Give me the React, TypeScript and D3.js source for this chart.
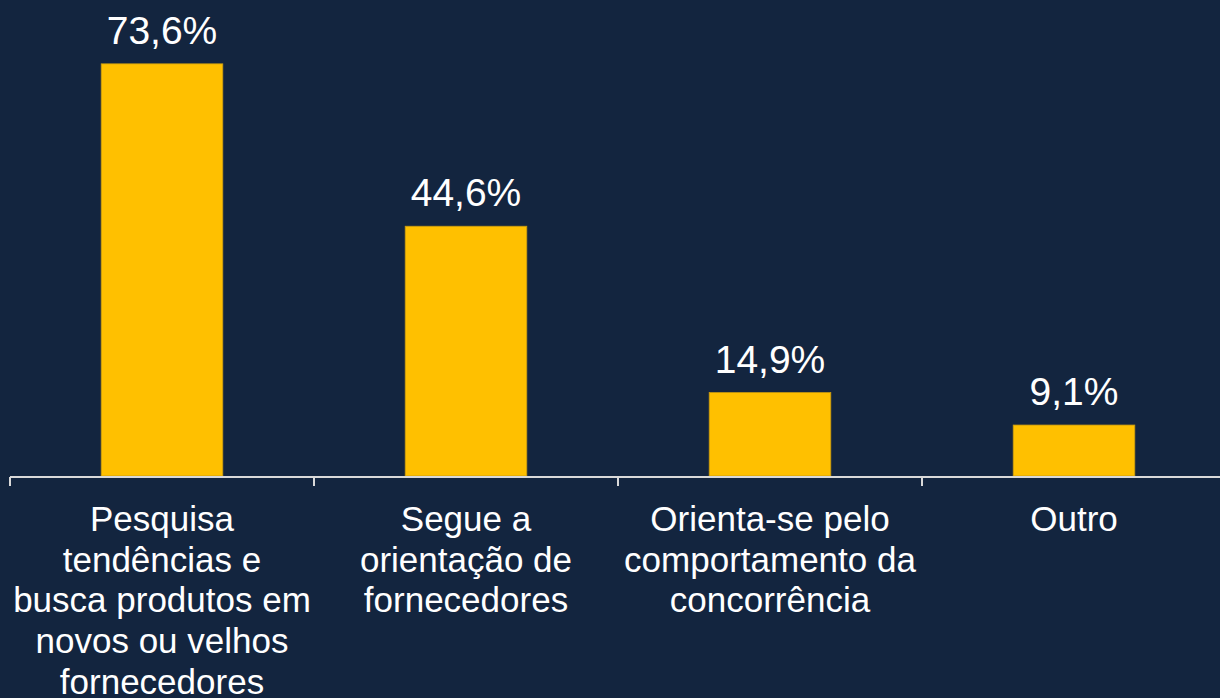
import React from "react";
import * as d3 from "d3";

const categories: string[][] = [
  ["Pesquisa", "tendências e", "busca produtos em", "novos ou velhos", "fornecedores"],
  ["Segue a", "orientação de", "fornecedores"],
  ["Orienta-se pelo", "comportamento da", "concorrência"],
  ["Outro"],
];
const values: number[] = [73.6, 44.6, 14.9, 9.1];
const valueLabels: string[] = ["73,6%", "44,6%", "14,9%", "9,1%"];

const W = 1220;
const H = 698;
const BG = "#13253F";
const BAR = "#FFC000";

export default function App() {
  const ids = categories.map((_, i) => String(i));
  const x = d3.scaleBand<string>().domain(ids).range([10, 1226]).padding(0);
  const y = d3.scaleLinear().domain([0, 80]).range([476, 28]);
  const bw = x.bandwidth() * 0.4;
  const font = "'Liberation Sans', Arial, sans-serif";
  const ticks = ids.map((id) => x(id) as number);

  return (
    <svg
      width={W}
      height={H}
      style={{ position: "absolute", left: 0, top: 0, display: "block" }}
    >
      <rect x={0} y={0} width={W} height={H} fill={BG} />
      {values.map((v, i) => {
        const cx = (x(ids[i]) as number) + x.bandwidth() / 2;
        return (
          <g key={i}>
            <rect
              x={cx - bw / 2}
              y={y(v)}
              width={bw}
              height={y(0) - y(v)}
              fill={BAR}
              stroke="#C89A10"
              strokeWidth={0.8}
            />
            <text
              x={cx}
              y={y(v) - 20}
              textAnchor="middle"
              fill="#FFFFFF"
              fontFamily={font}
              fontSize={39}
            >
              {valueLabels[i]}
            </text>
            <text
              x={cx}
              y={531}
              textAnchor="middle"
              fill="#FFFFFF"
              fontFamily={font}
              fontSize={35}
            >
              {categories[i].map((line, j) => (
                <tspan key={j} x={cx} dy={j === 0 ? 0 : 40.7}>
                  {line}
                </tspan>
              ))}
            </text>
          </g>
        );
      })}
      <line x1={10} x2={W} y1={y(0) + 1} y2={y(0) + 1} stroke="#D9D9D9" strokeWidth={2} />
      {ticks.map((t, i) => (
        <line key={i} x1={t} x2={t} y1={y(0) + 1} y2={y(0) + 10} stroke="#D9D9D9" strokeWidth={2} />
      ))}
    </svg>
  );
}
